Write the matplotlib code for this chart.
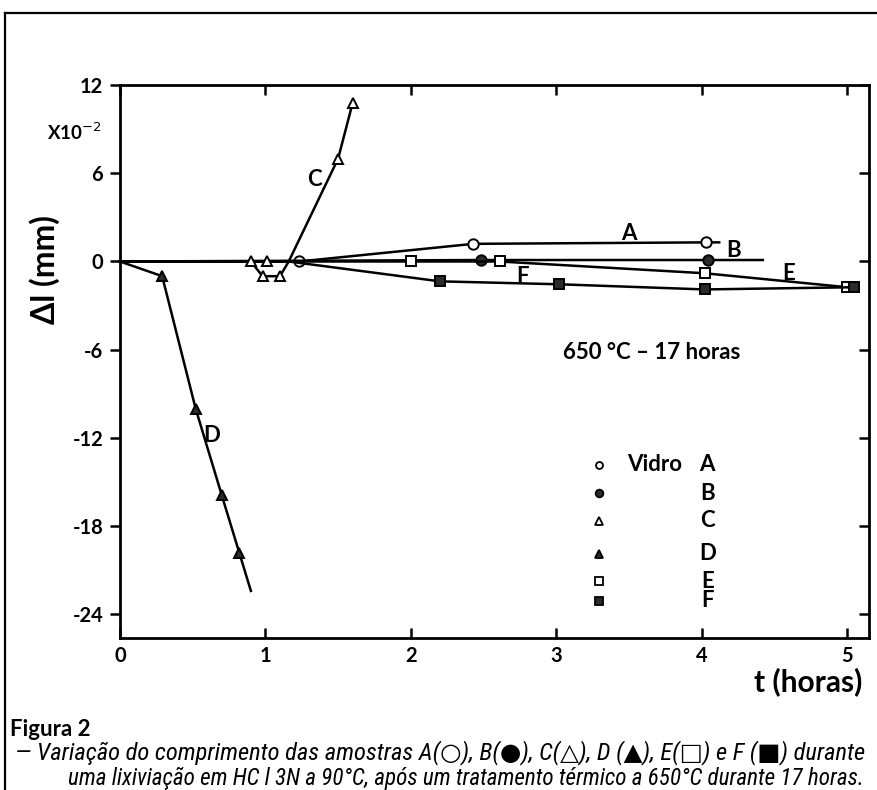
import matplotlib
matplotlib.use("Agg")
import matplotlib.pyplot as plt
from matplotlib import font_manager
from matplotlib.lines import Line2D

# ---------------- data ----------------
A_t = [0, 1.23, 2.43, 4.03, 4.12]
A_dl = [0, 0.0, 1.2, 1.3, 1.3]
B_t = [0, 2.48, 4.04, 4.42]
B_dl = [0, 0.1, 0.1, 0.1]
C_t = [0, 1.01, 0.90, 0.98, 1.10, 1.16, 1.50, 1.60]
C_dl = [0, 0.0, 0.0, -1.0, -1.0, 0.0, 7.0, 10.8]
D_t = [0, 0.29, 0.52, 0.70, 0.82, 0.90]
D_dl = [0, -1.0, -10.0, -15.9, -19.8, -22.4]
E_t = [0, 2.00, 2.61, 4.02, 5.00]
E_dl = [0, 0.0, 0.0, -0.8, -1.75]
F_t = [0, 1.16, 2.20, 3.02, 4.02, 5.05]
F_dl = [0, 0.0, -1.35, -1.55, -1.9, -1.75]

x_ticks = [0, 1, 2, 3, 4, 5]
y_ticks = [-24, -18, -12, -6, 0, 6, 12]
legend_letters = ["A", "B", "C", "D", "E", "F"]

# ---------------- fonts ----------------
names = {f.name for f in font_manager.fontManager.ttflist}


def pick(*cands):
    for c in cands:
        if c in names:
            return c
    return "DejaVu Sans"


MAIN = pick("Lato", "Liberation Sans", "DejaVu Sans")
CAP = pick("Liberation Sans Narrow", "Roboto Condensed", "Liberation Sans", "DejaVu Sans")
plt.rcParams["font.family"] = [MAIN, "DejaVu Sans"]

fig = plt.figure(figsize=(8.77, 7.90), dpi=100)
W, H = 877, 790
ax = fig.add_axes([120 / W, 1 - 638 / H, (869 - 120) / W, (638 - 85) / H])

lw = 1.8
k = dict(color="black", lw=lw, mec="black", mew=1.4, clip_on=False)
fill = "#2b2b2b"
ax.plot(A_t, A_dl, marker="o", ms=7.5, mfc="white", markevery=[1, 2, 3], **k)
ax.plot(B_t, B_dl, marker="o", ms=7.5, mfc=fill, markevery=[1, 2], **k)
ax.plot(E_t, E_dl, marker="s", ms=7, mfc="white", markevery=[1, 2, 3, 4], **k)
ax.plot(F_t, F_dl, marker="s", ms=7.5, mfc=fill, markevery=[2, 3, 4, 5], **k)
ax.plot(C_t, C_dl, marker="^", ms=7.5, mfc="white", markevery=[1, 2, 3, 4, 6, 7], **k)
ax.plot(D_t, D_dl, marker="^", ms=7.5, mfc=fill, markevery=[1, 2, 3, 4], **k)

ax.set_xlim(0, 5.15)
ax.set_ylim(-25.6, 12)
ax.set_xticks(x_ticks)
ax.set_yticks(y_ticks)
ax.set_xticklabels([str(v) for v in x_ticks])
ax.set_yticklabels([str(v) for v in y_ticks])

for s in ax.spines.values():
    s.set_linewidth(2.0)
ax.tick_params(axis="x", direction="in", top=True, length=7, width=1.8,
               labelsize=14.5, pad=6)
ax.tick_params(axis="y", direction="out", left=True, right=False, length=7,
               width=1.8, labelsize=14.5, pad=5)
for lab in ax.get_xticklabels() + ax.get_yticklabels():
    lab.set_fontweight("bold")
sec = ax.secondary_yaxis("right")
sec.set_yticks(y_ticks)
sec.tick_params(direction="in", length=7, width=1.8, labelright=False)

# curve labels
lk = dict(fontsize=16, fontweight="bold", ha="center", va="center")
ax.text(3.50, 1.9, "A", **lk)
ax.text(4.22, 0.75, "B", **lk)
ax.text(1.34, 5.6, "C", **lk)
ax.text(0.63, -11.8, "D", **lk)
ax.text(4.60, -0.8, "E", **lk)
ax.text(2.77, -1.0, "F", **lk)

ax.text(0.591, 0.517, "650 °C – 17 horas", transform=ax.transAxes,
        fontsize=16, fontweight="bold", ha="left", va="center")

# legend (manual)
leg_y = [0.313, 0.262, 0.2116, 0.152, 0.103, 0.067]
leg_m = [("o", "white", 5), ("o", fill, 5.5), ("^", "white", 5.5),
         ("^", fill, 5.5), ("s", "white", 5.5), ("s", fill, 5.5)]
for yy, (m, fc, ms), letter in zip(leg_y, leg_m, legend_letters):
    ax.plot([0.6395], [yy], marker=m, ms=ms, mfc=fc, mec="black", mew=1.3,
            ls="none", transform=ax.transAxes)
    ax.text(0.784, yy, letter, transform=ax.transAxes, fontsize=16,
            fontweight="bold", ha="center", va="center")
ax.text(0.677, leg_y[0], "Vidro", transform=ax.transAxes, fontsize=16,
        fontweight="bold", ha="left", va="center")

# axis titles
fig.text(102 / W, 1 - 132 / H, r"X10$^{-2}$", fontsize=13.5, fontweight="bold",
         ha="right", va="center")
fig.text(45 / W, 1 - 270 / H, "Δl (mm)", fontsize=23, fontweight="bold",
         rotation=90, ha="center", va="center")
fig.text(862 / W, 1 - 682 / H, "t (horas)", fontsize=21.5, fontweight="bold",
         ha="right", va="center")

# caption
fig.text(10 / W, 1 - 730 / H, "Figura 2", fontsize=16, fontweight="bold",
         ha="left", va="center", family=[MAIN, "DejaVu Sans"])
cap1 = ("— Variação do comprimento das amostras A(○), B(●), C(△), D (▲), "
        "E(□) e F (■) durante")
cap2 = "uma lixiviação em HC l 3N a 90°C, após um tratamento térmico a 650°C durante 17 horas."
t1 = fig.text(15 / W, 1 - 753 / H, cap1, fontsize=13, style="italic",
              ha="left", va="center", family=[CAP, "DejaVu Sans"])
t2 = fig.text(68 / W, 1 - 778 / H, cap2, fontsize=13, style="italic",
              ha="left", va="center", family=[CAP, "DejaVu Sans"])
fig.canvas.draw()
r = fig.canvas.get_renderer()
for t, target in ((t1, 847), (t2, 794)):
    w = t.get_window_extent(r).width
    t.set_fontsize(13 * target / w)

# frame lines of the page
fig.add_artist(Line2D([5 / W, 1.0], [1 - 13 / H, 1 - 13 / H], color="black", lw=1.6))
fig.add_artist(Line2D([5 / W, 5 / W], [0.0, 1 - 13 / H], color="black", lw=1.6))

fig.savefig("out.png", dpi=100)
